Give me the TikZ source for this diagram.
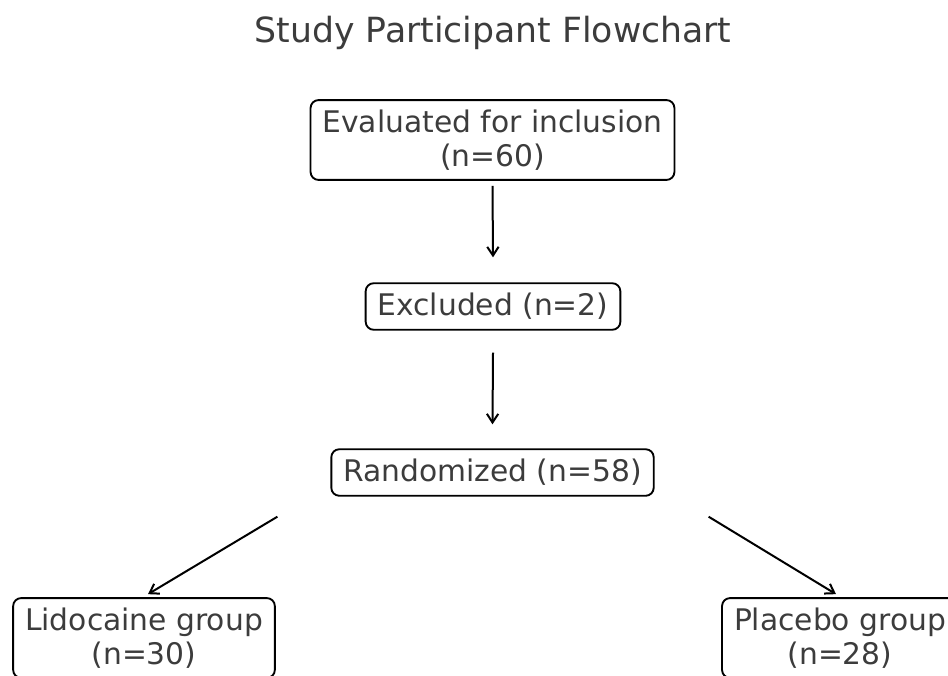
\documentclass[tikz,border=0pt]{standalone}
\usepackage{fontspec}
\setmainfont{DejaVu Sans}
\usepackage{xcolor}
\definecolor{ink}{HTML}{3C3C3C}
\definecolor{edge}{HTML}{000000}
\usetikzlibrary{arrows.meta, positioning}
\tikzset{
  >={Straight Barb[length=6.5pt, width=8.5pt, line width=1.5pt]},
  box/.style={draw=edge, rounded corners=6pt, align=center, font=\fontsize{22.3}{25}\selectfont,
    text=ink, inner xsep=9pt, inner ysep=7.5pt, line width=1.4pt},
  flow/.style={->, line width=1.5pt, color=edge},
  ttl/.style={font=\fontsize{26}{30}\selectfont, text=ink},
}
\begin{document}
\begin{tikzpicture}[x=0.75pt, y=-0.75pt]
  \clip (0,0) rectangle (948,675);

  % Title and the chain of steps.
  \node[ttl] (title) at (493,33) {Study Participant Flowchart};
  \node[box] (eval) at (492.5,140) {Evaluated for inclusion\\(n=60)};
  \node[box] (excl) at (493,306.5) {Excluded (n=2)};
  \node[box] (rand) at (492.5,472.5) {Randomized (n=58)};
  \node[box] (lido) at (144,638) {Lidocaine group\\(n=30)};
  \node[box] (plac) at (840,638) {Placebo group\\(n=28)};

  \draw[flow] ([shift={(0,5)}]eval.south) -- ([shift={(0,-25)}]excl.north);
  \draw[flow] ([shift={(0,22)}]excl.south) -- ([shift={(0,-24)}]rand.north);
  \draw[flow] ([shift={(-53,20)}]rand.south west) -- ([shift={(4,-3)}]lido.north);
  \draw[flow] ([shift={(54,20)}]rand.south east) -- ([shift={(-4,-3)}]plac.north);
\end{tikzpicture}
\end{document}
